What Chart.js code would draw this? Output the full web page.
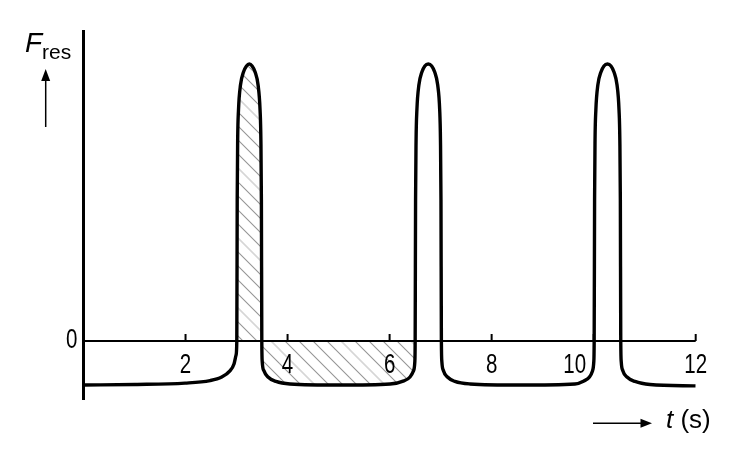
<!DOCTYPE html>
<html>
<head>
<meta charset="utf-8">
<script src="https://cdn.jsdelivr.net/npm/chart.js@4.4.1/dist/chart.umd.min.js"></script>
<style>
  html, body { margin: 0; padding: 0; background: #fff; }
  #wrap { width: 738px; height: 459px; }
</style>
</head>
<body>
<div id="wrap"><canvas id="c" width="738" height="459"></canvas></div>
<script>
// ---- data ----
const times = [
  0, 1.01, 1.99, 2.48, 2.71, 2.87, 2.95, 2.99, 3.005,
  3.013, 3.022, 3.038, 3.077, 3.136, 3.195, 3.250, 3.305, 3.364, 3.422, 3.461, 3.477, 3.487, 3.495,
  3.504, 3.538, 3.616, 3.773, 4.047, 5.03, 6.01, 6.28, 6.40, 6.468, 6.494, 6.501,
  6.509, 6.519, 6.535, 6.574, 6.633, 6.691, 6.758, 6.825, 6.884, 6.943, 6.982, 6.997, 7.007, 7.015,
  7.025, 7.058, 7.134, 7.281, 7.575, 8.555, 9.633, 9.810, 9.918, 9.977, 10.002, 10.010,
  10.018, 10.027, 10.043, 10.082, 10.143, 10.202, 10.270, 10.339, 10.398, 10.458, 10.497, 10.513, 10.523, 10.531,
  10.541, 10.574, 10.653, 10.810, 11.104, 12.0
];
const force = [
  -1.59, -1.57, -1.52, -1.43, -1.30, -1.08, -0.83, -0.51, 0,
  5.09, 7.26, 8.34, 9.24, 9.71, 9.93, 10.0, 9.93, 9.71, 9.24, 8.34, 7.26, 5.09, 0,
  -0.76, -1.08, -1.30, -1.46, -1.55, -1.59, -1.55, -1.44, -1.30, -1.08, -0.76, 0,
  5.09, 7.26, 8.34, 9.24, 9.71, 9.93, 10.0, 9.93, 9.71, 9.24, 8.34, 7.26, 5.09, 0,
  -0.76, -1.08, -1.30, -1.46, -1.55, -1.59, -1.55, -1.44, -1.30, -1.08, -0.76, 0,
  5.09, 7.26, 8.34, 9.24, 9.71, 9.93, 10.0, 9.93, 9.71, 9.24, 8.34, 7.26, 5.09, 0,
  -0.76, -1.08, -1.30, -1.46, -1.57, -1.62
];
const hatchFrom = 3.0;
const hatchTo = 6.51;
const tickValues = [2, 4, 6, 8, 10, 12];
const tickLabels = ['2', '4', '6', '8', '10', '12'];
const zeroLabel = '0';
const xTitleVar = 't';
const xTitleUnit = ' (s)';
const yTitleVar = 'F';
const yTitleSub = 'res';

// ---- build ----
const curve = times.map((t, i) => ({ x: t, y: force[i] }));
const hatchPts = curve.filter(p => p.x >= hatchFrom && p.x <= hatchTo);

function makeHatch() {
  const s = 14, n = 5, T = s * n;
  const c = document.createElement('canvas');
  c.width = T; c.height = T;
  const g = c.getContext('2d');
  for (let k = -n; k <= n; k++) {
    const off = k * s;
    const light = ((k % n) + n) % n === 0;
    g.strokeStyle = light ? '#d6d6d6' : '#949494';
    g.lineWidth = light ? 1.6 : 1.1;
    g.beginPath();
    g.moveTo(off - 2, -2);
    g.lineTo(off + T + 2, T + 2);
    g.stroke();
  }
  return c.getContext('2d').createPattern(c, 'repeat');
}

const labelShift = { 10: -19 };

const axesPlugin = {
  id: 'axesPlugin',
  afterDatasetsDraw(chart) {
    const { ctx, chartArea, scales } = chart;
    const xs = scales.x, ys = scales.y;
    const x0 = xs.getPixelForValue(0);
    const y0 = ys.getPixelForValue(0);
    const xEnd = xs.getPixelForValue(12);
    ctx.save();
    ctx.strokeStyle = '#000';
    ctx.fillStyle = '#000';
    // vertical axis
    ctx.lineWidth = 3;
    ctx.beginPath();
    ctx.moveTo(x0, chartArea.top);
    ctx.lineTo(x0, chartArea.bottom);
    ctx.stroke();
    // zero line
    ctx.lineWidth = 2;
    ctx.beginPath();
    ctx.moveTo(x0, y0);
    ctx.lineTo(xEnd, y0);
    ctx.stroke();
    // ticks + labels
    ctx.font = '27px "Liberation Sans", Arial, sans-serif';
    ctx.textBaseline = 'alphabetic';
    tickValues.forEach((v, i) => {
      const px = xs.getPixelForValue(v);
      ctx.lineWidth = 2;
      ctx.beginPath();
      ctx.moveTo(px, y0);
      ctx.lineTo(px, y0 - 7);
      ctx.stroke();
      ctx.save();
      ctx.translate(px + (labelShift[v] || 0), y0 + 32);
      ctx.scale(0.76, 1);
      ctx.textAlign = 'center';
      ctx.fillText(tickLabels[i], 0, 0);
      ctx.restore();
    });
    // zero label
    ctx.save();
    ctx.translate(x0 - 6, y0 + 7);
    ctx.scale(0.76, 1);
    ctx.textAlign = 'right';
    ctx.fillText(zeroLabel, 0, 0);
    ctx.restore();

    // y title
    ctx.textAlign = 'left';
    ctx.font = 'italic 28px "Liberation Sans", Arial, sans-serif';
    ctx.fillText(yTitleVar, 25, 52);
    ctx.font = '21px "Liberation Sans", Arial, sans-serif';
    ctx.fillText(yTitleSub, 42, 59);
    // up arrow
    ctx.lineWidth = 1.5;
    ctx.beginPath();
    ctx.moveTo(45.7, 127);
    ctx.lineTo(45.7, 78);
    ctx.stroke();
    ctx.beginPath();
    ctx.moveTo(45.7, 69);
    ctx.lineTo(41.2, 81);
    ctx.lineTo(50.2, 81);
    ctx.closePath();
    ctx.fill();

    // right arrow
    ctx.beginPath();
    ctx.moveTo(593, 423.3);
    ctx.lineTo(644, 423.3);
    ctx.stroke();
    ctx.beginPath();
    ctx.moveTo(652, 423.3);
    ctx.lineTo(640.5, 418.8);
    ctx.lineTo(640.5, 427.8);
    ctx.closePath();
    ctx.fill();
    // x title
    ctx.font = 'italic 26px "Liberation Sans", Arial, sans-serif';
    ctx.fillText(xTitleVar, 666, 428);
    const tw = ctx.measureText(xTitleVar).width;
    ctx.font = '26px "Liberation Sans", Arial, sans-serif';
    ctx.fillText(xTitleUnit, 666 + tw, 428);
    ctx.restore();
  }
};

new Chart(document.getElementById('c'), {
  type: 'line',
  data: {
    datasets: [
      {
        data: curve,
        borderColor: '#000',
        borderWidth: 3.4,
        pointRadius: 0,
        cubicInterpolationMode: 'monotone',
        fill: false
      },
      {
        data: hatchPts,
        borderColor: 'rgba(0,0,0,0)',
        borderWidth: 0,
        pointRadius: 0,
        cubicInterpolationMode: 'monotone',
        backgroundColor: makeHatch(),
        fill: 'origin'
      }
    ]
  },
  options: {
    responsive: false,
    animation: false,
    devicePixelRatio: 1,
    layout: { padding: { left: 83.5, right: 42.3, top: 30, bottom: 59 } },
    plugins: { legend: { display: false }, tooltip: { enabled: false } },
    scales: {
      x: { type: 'linear', min: 0, max: 12, display: false },
      y: { type: 'linear', min: -59 / 27.7, max: 311 / 27.7, display: false }
    }
  },
  plugins: [axesPlugin]
});
</script>
</body>
</html>
